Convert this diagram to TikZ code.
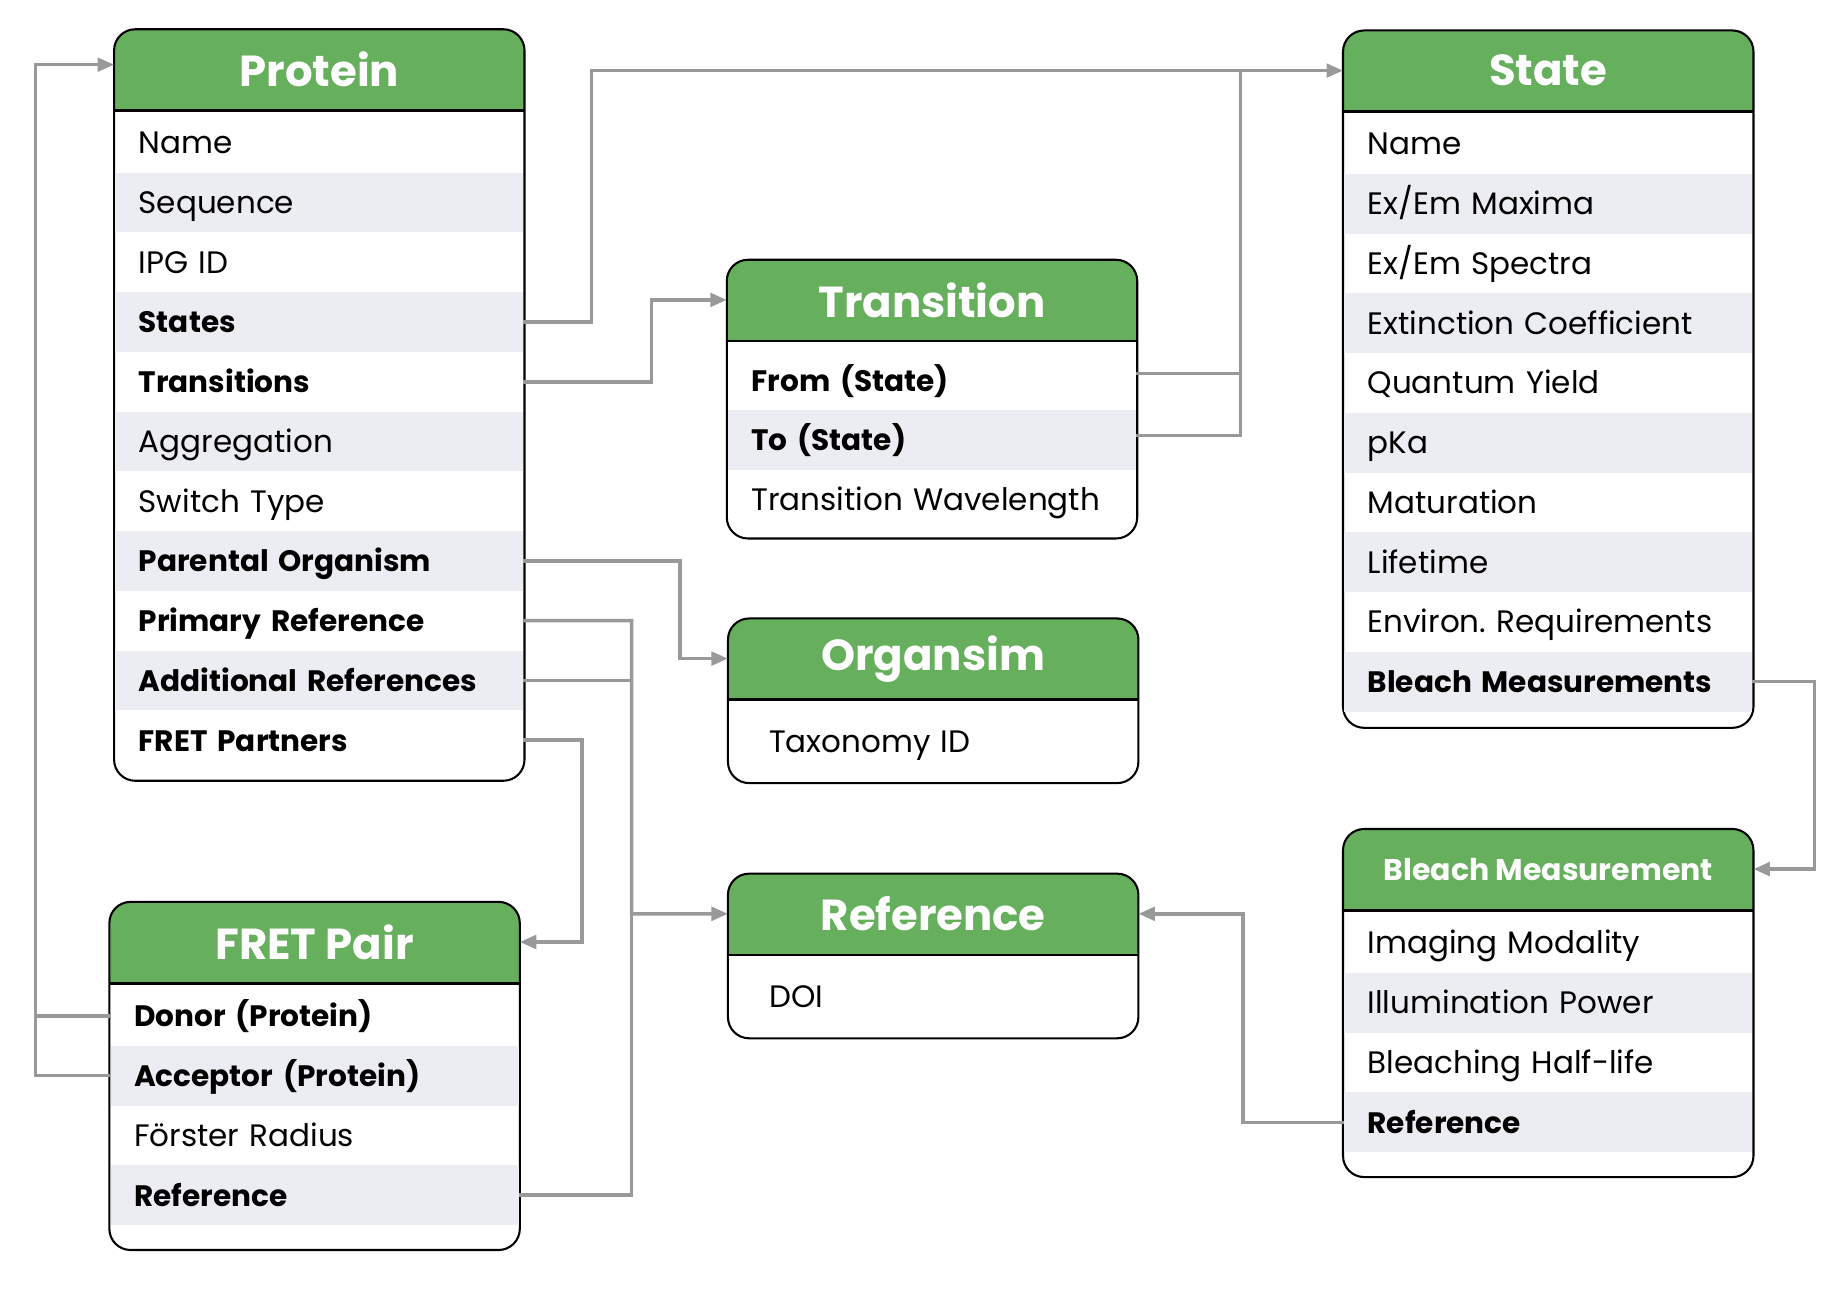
\documentclass[tikz,border=0pt]{standalone}
\usepackage{fontspec}
\setmainfont{Poppins}
\usetikzlibrary{arrows.meta, positioning}

\definecolor{hdrgreen}{RGB}{102,175,93}
\definecolor{rowgray}{RGB}{236,237,242}
\definecolor{linkgray}{RGB}{153,153,153}

\tikzstyle{entity} = [rectangle, rounded corners=3.6mm,
minimum width=69.8mm,
anchor=north,
draw=black, line width=1pt,
fill=white,
path picture={\fill[hdrgreen, sharp corners] (path picture bounding box.north west) rectangle ([yshift=-14mm]path picture bounding box.north east);}]
\tikzstyle{header} = [rectangle,
minimum width=69.8mm,
minimum height=14mm,
outer sep=0pt,
anchor=north,
text=white,
font=\fontsize{21}{25}\selectfont\bfseries]
\tikzstyle{smallheader} = [header, font=\fontsize{14.5}{18}\selectfont\bfseries]
\tikzstyle{divider} = [line width=1.3pt]
\tikzstyle{field} = [rectangle,
minimum height=10.16mm,
inner xsep=4mm, inner ysep=0pt, outer sep=0pt,
text width=61.4mm, align=left,
text height=3.7mm, text depth=0mm,
font=\fontsize{15}{18}\selectfont]
\tikzstyle{stripe} = [fill=rowgray]
\tikzstyle{boldfield} = [font=\fontsize{14.3}{18}\selectfont\bfseries]
\tikzstyle{link} = [draw=linkgray, line width=0.6mm]
\tikzstyle{arrow} = [link, -{Triangle[length=2.8mm, width=2.3mm]}]

\begin{document}
\begin{tikzpicture}[x=0.2mm, y=-0.2mm]
\useasboundingbox (0,0) rectangle (1568,1099);

% Protein
\node (protein-box) [entity, minimum height=127.8mm] at (271.5,24) {};
\node (protein) [header] at (protein-box.north) {Protein};
\draw [divider] (protein.south west) -- (protein.south east);
\node (prot-name) [field, below=0.4mm of protein] {Name};
\node (prot-seq) [field, stripe, below=0pt of prot-name] {Sequence};
\node (prot-ipg) [field, below=0pt of prot-seq] {IPG ID};
\node (prot-states) [field, stripe, boldfield, below=0pt of prot-ipg] {States};
\node (prot-trans) [field, boldfield, below=0pt of prot-states] {Transitions};
\node (prot-agg) [field, stripe, below=0pt of prot-trans] {Aggregation};
\node (prot-switch) [field, below=0pt of prot-agg] {Switch Type};
\node (prot-org) [field, stripe, boldfield, below=0pt of prot-switch] {Parental Organism};
\node (prot-primref) [field, boldfield, below=0pt of prot-org] {Primary Reference};
\node (prot-addref) [field, stripe, boldfield, below=0pt of prot-primref] {Additional References};
\node (prot-fret) [field, boldfield, below=0pt of prot-addref] {FRET Partners};

% State
\node (state-box) [entity, minimum height=118.6mm] at (1316.5,25) {};
\node (state) [header] at (state-box.north) {State};
\draw [divider] (state.south west) -- (state.south east);
\node (state-name) [field, below=0.4mm of state] {Name};
\node (state-max) [field, stripe, below=0pt of state-name] {Ex/Em Maxima};
\node (state-spec) [field, below=0pt of state-max] {Ex/Em Spectra};
\node (state-ext) [field, stripe, below=0pt of state-spec] {Extinction Coefficient};
\node (state-qy) [field, below=0pt of state-ext] {Quantum Yield};
\node (state-pka) [field, stripe, below=0pt of state-qy] {pKa};
\node (state-mat) [field, below=0pt of state-pka] {Maturation};
\node (state-life) [field, stripe, below=0pt of state-mat] {Lifetime};
\node (state-env) [field, below=0pt of state-life] {Environ.\ Requirements};
\node (state-bleach) [field, stripe, boldfield, below=0pt of state-env] {Bleach Measurements};

% Transition
\node (transition-box) [entity, minimum height=47.4mm] at (792.5,220) {};
\node (transition) [header] at (transition-box.north) {Transition};
\draw [divider] (transition.south west) -- (transition.south east);
\node (trans-from) [field, boldfield, below=1.6mm of transition] {From (State)};
\node (trans-to) [field, stripe, boldfield, below=0pt of trans-from] {To (State)};
\node (trans-wave) [field, below=0pt of trans-to] {Transition Wavelength};

% Organsim
\node (organism-box) [entity, minimum height=28mm] at (793.5,525) {};
\node (organism) [header] at (organism-box.north) {Organsim};
\draw [divider] (organism.south west) -- (organism.south east);
\node (org-taxid) [field, inner xsep=6.8mm, text width=55.8mm, below=2mm of organism] {Taxonomy ID};

% Reference
\node (reference-box) [entity, minimum height=28mm] at (793.5,742) {};
\node (reference) [header] at (reference-box.north) {Reference};
\draw [divider] (reference.south west) -- (reference.south east);
\node (ref-doi) [field, inner xsep=6.8mm, text width=55.8mm, below=2mm of reference] {DOI};

% FRET Pair
\node (fretpair-box) [entity, minimum height=59.2mm] at (267.5,766) {};
\node (fretpair) [header] at (fretpair-box.north) {FRET Pair};
\draw [divider] (fretpair.south west) -- (fretpair.south east);
\node (fret-donor) [field, boldfield, below=0.5mm of fretpair] {Donor (Protein)};
\node (fret-acc) [field, stripe, boldfield, below=0pt of fret-donor] {Acceptor (Protein)};
\node (fret-radius) [field, below=0pt of fret-acc] {Förster Radius};
\node (fret-ref) [field, stripe, boldfield, below=0pt of fret-radius] {Reference};

% Bleach Measurement
\node (bleach-box) [entity, minimum height=59.2mm] at (1316.5,704) {};
\node (bleach) [smallheader] at (bleach-box.north) {Bleach Measurement};
\draw [divider] (bleach.south west) -- (bleach.south east);
\node (bleach-mod) [field, below=0.5mm of bleach] {Imaging Modality};
\node (bleach-pow) [field, stripe, below=0pt of bleach-mod] {Illumination Power};
\node (bleach-half) [field, below=0pt of bleach-pow] {Bleaching Half-life};
\node (bleach-ref) [field, stripe, boldfield, below=0pt of bleach-half] {Reference};

% junctions
\coordinate (jstate) at (1055,60);
\coordinate (jref) at (537,777);
\coordinate (jprot) at (30,864);

\draw [arrow] (prot-states.east) -- ++(58,0) |- (state.west);
\draw [link] ([yshift=1.2mm]trans-from.east) -| (jstate);
\draw [link] ([yshift=0.8mm]trans-to.east) -| (jstate);
\draw [arrow] (prot-trans.east) -- ++(109,0) |- (transition.west);
\draw [arrow] (prot-org.east) -- ++(133,0) |- (organism.west);
\draw [arrow] (prot-primref.east) -| (jref) -- (reference.west);
\draw [link] (prot-addref.east) -| (jref);
\draw [link] (fret-ref.east) -| (jref);
\draw [arrow] (prot-fret.east) -- ++(50,0) |- (fretpair.east);
\draw [arrow] (fret-donor.west) -- ++(-64,0) |- ([yshift=0.8mm]protein.west);
\draw [link] (fret-acc.west) -| (jprot);
\draw [arrow] (state-bleach.east) -- ++(53,0) |- (bleach.east);
\draw [arrow] (bleach-ref.west) -- ++(-86,0) |- (reference.east);

\end{tikzpicture}
\end{document}
